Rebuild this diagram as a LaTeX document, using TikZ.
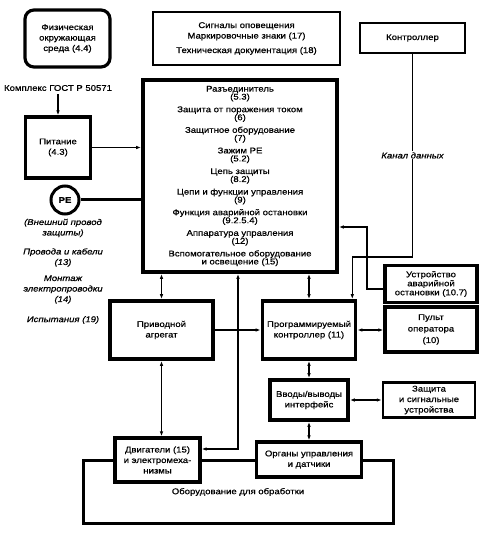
\documentclass[tikz,border=0pt]{standalone}
\usepackage{fontspec}
\setmainfont{Liberation Sans}[FakeStretch=1.15, FakeBold=0.7]
\usetikzlibrary{arrows.meta}

\begin{document}
\begin{tikzpicture}[
        x = 1pt,
        y = -1pt,
        font = \fontsize{8.3}{10.5}\selectfont,
        box/.style = {draw, line width=3.2pt, fill=white, align=center, inner sep=1pt},
        thinbox/.style = {box, line width=1.3pt},
        note/.style = {align=center, font=\fontsize{8.3}{10.5}\selectfont\itshape},
        link/.style = {line width=1.5pt},
        >={Latex[length=5pt, width=3.5pt]}
    ]
        \useasboundingbox (0,0) rectangle (482,534);

        % top row
        \node[box, rounded corners=9pt, minimum width=85pt, minimum height=57pt] (env) at (67.5, 38.5) {Физическая\\окружающая\\среда (4.4)};
        \node[thinbox, minimum width=187pt, minimum height=53pt] (signals) at (246.5, 38.5) {Сигналы оповещения\\Маркировочные знаки (17)\\[4pt]Техническая документация (18)};
        \node[box, line width=1.8pt, minimum width=105pt, minimum height=30pt] (ctrl) at (412.5, 38) {Контроллер};

        % left column
        \node (gost) at (58, 88) {Комплекс ГОСТ Р 50571};
        \node[box, minimum width=65pt, minimum height=61pt] (power) at (58, 147.5) {Питание\\(4.3)};
        \node[circle, draw, line width=3pt, minimum size=28pt, inner sep=0pt, font=\fontsize{8.3}{10}\selectfont\bfseries] (pe) at (65, 200) {PE};
        \node[note] (extpe) at (63, 228) {(Внешний провод\\защиты)};
        \node[note] (cables) at (63, 257.5) {Провода и кабели\\(13)};
        \node[note] (wiring) at (63, 289.5) {Монтаж\\электропроводки\\(14)};
        \node[note] (tests) at (63, 320) {Испытания (19)};

        % main block
        \node[box, line width=3.6pt, minimum width=194pt, minimum height=192pt, font=\fontsize{8.3}{8}\selectfont] (main) at (240, 176) {Разъединитель\\(5.3)\\[4.6pt]
            Защита от поражения током\\(6)\\[4.6pt]
            Защитное оборудование\\(7)\\[4.6pt]
            Зажим PE\\(5.2)\\[4.6pt]
            Цепь защиты\\(8.2)\\[4.6pt]
            Цепи и функции управления\\(9)\\[4.6pt]
            Функция аварийной остановки\\(9.2.5.4)\\[4.6pt]
            Аппаратура управления\\(12)\\[4.6pt]
            Вспомогательное оборудование\\и освещение (15)};

        % machine frame
        \draw[line width=3pt] (83, 460) rectangle (393, 523);
        \node (equip) at (238, 492) {Оборудование для обработки};

        % lower blocks
        \node[box, line width=3.6pt, minimum width=103pt, minimum height=58pt] (drive) at (161.5, 330) {Приводной\\агрегат};
        \node[box, line width=3.6pt, minimum width=93pt, minimum height=58pt] (plc) at (309, 330) {Программируемый\\контроллер (11)};
        \node[box, minimum width=92pt, minimum height=37pt, font=\fontsize{8.3}{9}\selectfont] (estop) at (431, 284) {Устройство\\аварийной\\остановки (10.7)};
        \node[box, minimum width=92pt, minimum height=45pt, font=\fontsize{8.3}{11.5}\selectfont] (panel) at (431, 329.5) {Пульт\\оператора\\(10)};
        \node[box, line width=3.6pt, minimum width=78pt, minimum height=40pt] (io) at (309, 400) {Вводы/выводы\\интерфейс};
        \node[box, line width=2.4pt, minimum width=92pt, minimum height=35pt] (prot) at (429, 400) {Защита\\и сигнальные\\устройства};
        \node[box, minimum width=105pt, minimum height=35pt] (sens) at (309, 459.5) {Органы управления\\и датчики};
        \node[box, minimum width=85pt, minimum height=44pt] (motor) at (157.5, 460) {Двигатели (15)\\и электромеха-\\низмы};

        \coordinate (databend) at (413, 257);
        \coordinate (stopbend) at (367, 227);
        \coordinate (feedbend) at (238, 449);

        % connectors
        \draw[link, ->] (gost) -- (power);
        \draw[link, ->] (power) -- (power -| main.west);
        \draw[line width=3pt] (pe) -- (pe -| main.west);
        \draw[link, <->] (main.south -| drive) -- (drive);
        \draw[link, <->] (main.south -| plc) -- (plc);
        \draw[link, <->] (main.south -| feedbend) -- (feedbend) -- (feedbend -| motor.east);
        \draw[link, ->] (drive) -- (plc);
        \draw[link, <->] (drive.south) -- (drive.south |- motor.north);
        \draw[link, <->] (plc.east) -- (plc.east -| panel.west);
        \draw[link, <->] (plc) -- (io);
        \draw[link, <->] (io) -- (sens);
        \draw[link, <->] (io.east) -- (io.east -| prot.west);
        \draw[link, ->] (ctrl.south) -- node[fill=white, inner sep=1pt, font=\fontsize{8.3}{10}\selectfont\itshape] {Канал данных} (ctrl.south |- databend) -| ([xshift=-5pt]plc.north east);
        \draw[link, ->] ([yshift=-5pt]estop.west) -| (stopbend) -- (stopbend -| main.east);
\end{tikzpicture}
\end{document}
